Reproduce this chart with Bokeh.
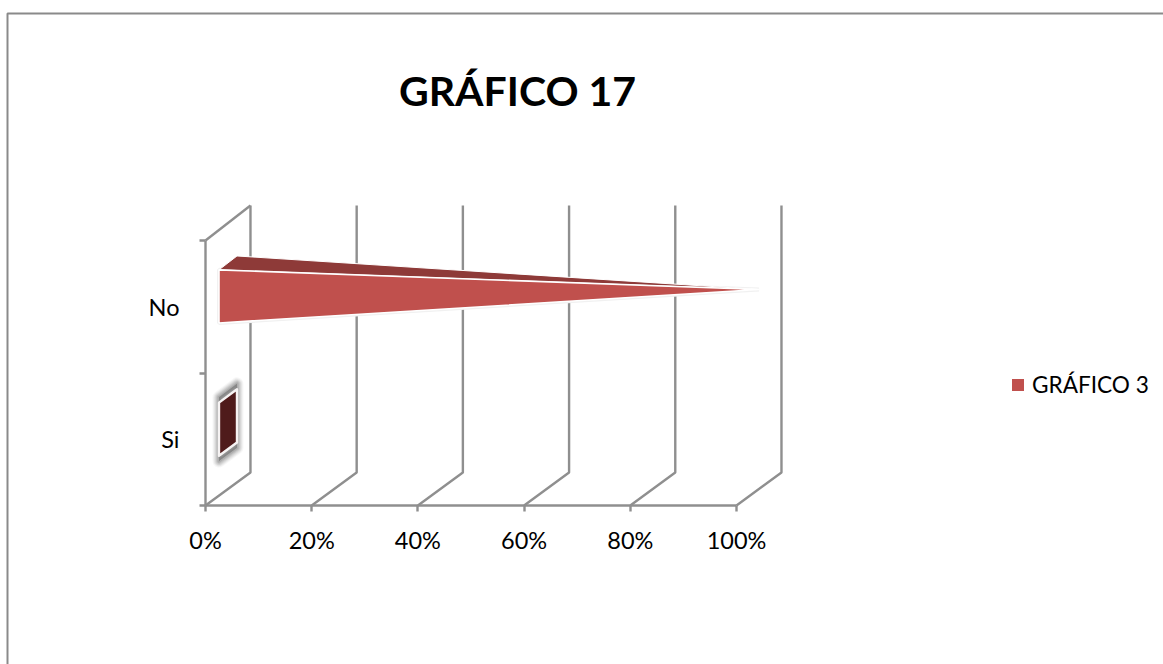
from bokeh.embed import file_html
from bokeh.resources import INLINE
from bokeh.plotting import figure
from bokeh.models import (BoxAnnotation, FixedTicker, Label, Legend, LegendItem,
                          LinearAxis, Range1d)

# Chart content
title_text = "GRÁFICO 17"
series_name = "GRÁFICO 3"
categories = ["Si", "No"]
values = [0, 100]
percent_ticks = [0, 20, 40, 60, 80, 100]
percent_labels = ["0%", "20%", "40%", "60%", "80%", "100%"]

FONT = "Lato"
AXIS_GRAY = "#8f8f8f"
FRONT = "#c0504d"
TOP = "#8e3a38"
BASE = "#4f1b1b"

# Oblique view of the 3-D box: depth 0 is the front, depth 1 the back wall
DEPTH_X = 8.47
DEPTH_Y = 0.249
PERSPECTIVE = 0.0075
HALF_BAR = 0.2


def project(pct, cat, depth):
    return pct + depth * DEPTH_X, cat * (1 + PERSPECTIVE * depth) + depth * DEPTH_Y


def polygon(points):
    xy = [project(*pt) for pt in points]
    return [a for a, _ in xy], [b for _, b in xy]


p = figure(width=1163, height=664, output_backend="svg", toolbar_location=None,
           x_range=Range1d(-205 / 5.31, 958 / 5.31), y_range=Range1d(-159 / 132.5, 505 / 132.5),
           x_axis_type=None, y_axis_type=None, min_border=0,
           background_fill_color="white", border_fill_color="white", outline_line_color=None)
p.xgrid.visible = False
p.ygrid.visible = False

# Outer chart border, its right and bottom sides fall off the page
p.add_layout(BoxAnnotation(left=7, right=1300, top=13, bottom=800,
                           left_units="canvas", right_units="canvas",
                           top_units="canvas", bottom_units="canvas",
                           fill_alpha=0, line_color="#8a8a8a", line_alpha=1, line_width=2))

# Back wall lines and floor diagonals at each percent tick
n_cat = len(categories)
for pct in percent_ticks:
    bx, by = project(pct, 0, 1)
    tx, ty = project(pct, n_cat, 1)
    fx, fy = project(pct, 0, 0)
    p.line([fx, bx, tx], [fy, by, ty], line_color=AXIS_GRAY, line_width=2.4)
# Top edge of the left side wall
lx, ly = polygon([(0, n_cat, 0), (0, n_cat, 1)])
p.line(lx, ly, line_color=AXIS_GRAY, line_width=2.4)

# Pyramid bars, one per category
legend_renderer = None
for i, (cat, val) in enumerate(zip(categories, values)):
    lo, hi = i + 0.5 - HALF_BAR, i + 0.5 + HALF_BAR
    apex = (val, i + 0.5, 0.5)
    if val == 0:
        # A zero height pyramid leaves only its base, with a soft shadow round it
        grow = 0.04
        sx, sy = polygon([(0, lo - grow, 0.3), (0, hi + grow, 0.3), (0, hi + grow, 0.7), (0, lo - grow, 0.7)])
        for width, alpha in [(13, 0.05), (11, 0.07), (9, 0.09), (7, 0.12), (5, 0.15), (3, 0.18)]:
            p.patch(sx, sy, fill_color="#666666", fill_alpha=alpha, line_color="#666666",
                    line_alpha=alpha, line_width=width, line_join="round")
        bx, by = polygon([(0, lo, 0.3), (0, hi, 0.3), (0, hi, 0.7), (0, lo, 0.7)])
        p.patch(bx, by, fill_color=BASE, line_color="#f6f3f3", line_width=2.4, line_join="round")
    else:
        tx, ty = polygon([(0, hi, 0.3), (0, hi, 0.7), apex])
        fx, fy = polygon([(0, hi, 0.3), (0, lo, 0.3), apex])
        p.patch(fx, fy, fill_color="#f1f1f1", line_color="#f1f1f1", line_width=4)
        p.patch(tx, ty, fill_color=TOP, line_color="white", line_width=1)
        legend_renderer = p.patch(fx, fy, fill_color=FRONT, line_color="white", line_width=1.6)

# Real axes pinned to the front corner of the box
xaxis = LinearAxis(fixed_location=0, bounds=(0, 100),
                   ticker=FixedTicker(ticks=percent_ticks),
                   major_label_overrides=dict(zip(percent_ticks, percent_labels)))
xaxis.axis_line_color = AXIS_GRAY
xaxis.axis_line_width = 2.4
xaxis.major_tick_line_color = AXIS_GRAY
xaxis.major_tick_line_width = 2.4
xaxis.major_tick_in = 0
xaxis.major_tick_out = 6
xaxis.minor_tick_line_color = None
xaxis.major_label_standoff = 14
xaxis.major_label_text_font = FONT
xaxis.major_label_text_font_size = "23.5px"
xaxis.major_label_text_color = "black"
p.add_layout(xaxis, "below")

cat_centers = [i + 0.5 for i in range(n_cat)]
yaxis = LinearAxis(fixed_location=0, bounds=(0, n_cat),
                   ticker=FixedTicker(ticks=cat_centers, minor_ticks=list(range(n_cat + 1))),
                   major_label_overrides=dict(zip(cat_centers, categories)))
yaxis.axis_line_color = AXIS_GRAY
yaxis.axis_line_width = 2.4
yaxis.major_tick_line_color = None
yaxis.major_tick_in = 0
yaxis.major_tick_out = 0
yaxis.minor_tick_line_color = AXIS_GRAY
yaxis.minor_tick_line_width = 2.4
yaxis.minor_tick_in = 0
yaxis.minor_tick_out = 6
yaxis.major_label_standoff = 20
yaxis.major_label_orientation = "horizontal"
yaxis.major_label_text_font = FONT
yaxis.major_label_text_font_size = "23.5px"
yaxis.major_label_text_color = "black"
p.add_layout(yaxis, "left")

p.add_layout(Label(x=517, y=664 - 90, x_units="screen", y_units="screen", text=title_text,
                   text_font=FONT, text_font_style="bold", text_font_size="41px",
                   text_color="black", text_align="center", text_baseline="middle"))

legend = Legend(items=[LegendItem(label=series_name, renderers=[legend_renderer])],
                location=(1009, 664 - 398), orientation="vertical",
                background_fill_alpha=0, border_line_color=None,
                glyph_width=17, glyph_height=17, label_standoff=6, padding=6, margin=0,
                label_text_font=FONT, label_text_font_size="22.6px", label_text_color="black")
p.add_layout(legend, "center")

open("out.html", "w").write(file_html(p, INLINE))
